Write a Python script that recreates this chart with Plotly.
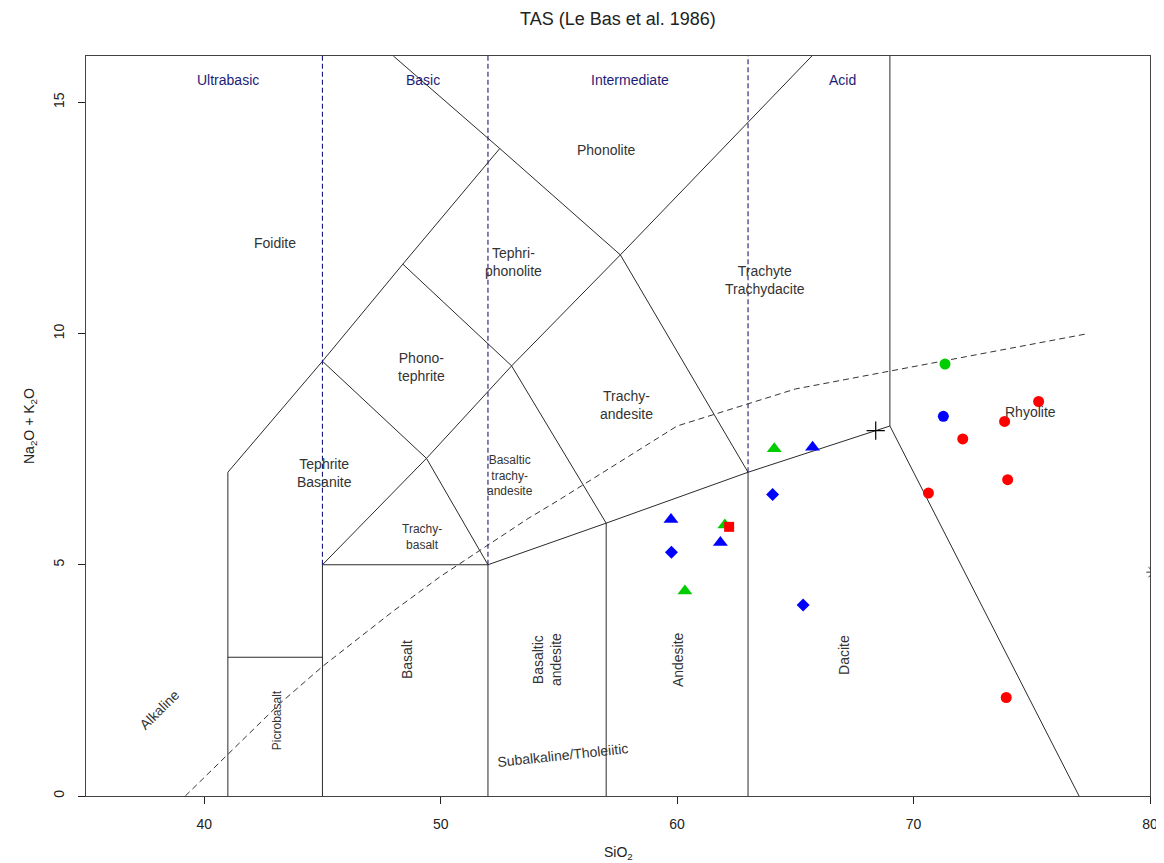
import plotly.graph_objects as go

# ---------------- data ----------------
red_circle_x = [75.29, 73.85, 72.08, 73.98, 70.63, 73.92]
red_circle_y = [8.53, 8.10, 7.72, 6.84, 6.55, 2.13]
blue_circle_x = [71.26]
blue_circle_y = [8.21]
green_circle_x = [71.33]
green_circle_y = [9.34]
blue_tri_x = [65.73, 59.74, 61.83]
blue_tri_y = [7.54, 5.98, 5.48]
green_tri_x = [64.11, 62.02, 60.33]
green_tri_y = [7.51, 5.86, 4.43]
blue_dia_x = [64.04, 59.76, 65.33]
blue_dia_y = [6.52, 5.27, 4.13]
red_sq_x = [62.2]
red_sq_y = [5.82]
plus_x = [68.4]
plus_y = [7.9]
star_x = [80.15]
star_y = [4.84]

# TAS field boundaries (SiO2, Na2O+K2O)
solid_boundaries = [
    [(41, 0), (41, 7)],
    [(41, 3), (45, 3)],
    [(45, 0), (45, 5)],
    [(41, 7), (45, 9.4), (48.4, 11.5), (52.5, 14)],
    [(48, 16), (52.5, 14), (57.6, 11.7), (63, 7)],
    [(45, 5), (49.4, 7.3), (53, 9.3), (57.6, 11.7), (65.7, 16)],
    [(45, 9.4), (49.4, 7.3), (52, 5)],
    [(48.4, 11.5), (53, 9.3), (57, 5.9)],
    [(45, 5), (52, 5), (57, 5.9), (63, 7), (69, 8)],
    [(52, 0), (52, 5)],
    [(57, 0), (57, 5.9)],
    [(63, 0), (63, 7)],
    [(69, 16), (69, 8), (77, 0)],
]
class_dividers = [
    [(45, 5), (45, 16)],
    [(52, 5), (52, 16)],
    [(63, 7), (63, 16)],
]
irvine_x = [39.2, 40, 43.2, 45, 48, 50, 53.7, 55, 60, 65, 77.4]
irvine_y = [0, 0.4, 2, 2.8, 4, 4.75, 6, 6.4, 8, 8.8, 10]

class_labels = ["Ultrabasic", "Basic", "Intermediate", "Acid"]
class_label_x = [41.0, 49.26, 58.0, 67.0]
class_label_y = 15.48

field_labels = ["Foidite", "Phonolite", "Tephri-<br>phonolite", "Trachyte<br>Trachydacite",
                "Phono-<br>tephrite", "Trachy-<br>andesite", "Tephrite<br>Basanite", "Rhyolite"]
field_label_x = [43.0, 57.0, 53.06, 63.72, 49.2, 57.84, 45.1, 74.93]
field_label_y = [11.96, 13.97, 11.55, 11.16, 9.28, 8.45, 6.98, 8.30]

small_labels = ["Basaltic<br>trachy-<br>andesite", "Trachy-<br>basalt"]
small_label_x = [52.94, 49.2]
small_label_y = [6.94, 5.6]

rot_labels = ["Basalt", "Basaltic<br>andesite", "Andesite", "Dacite"]
rot_label_x = [48.58, 54.5, 60.04, 67.06]
rot_label_y = [2.94, 2.94, 2.94, 3.05]

x_ticks = [40, 50, 60, 70, 80]
y_ticks = [0, 5, 10, 15]

FONT = "Liberation Sans, Arial, sans-serif"
NAVY = "#1c1c78"
LINE = "#2a2a2a"

fig = go.Figure()

def seg_trace(pts, color, dash="solid", width=1):
    return go.Scatter(x=[p[0] for p in pts], y=[p[1] for p in pts], mode="lines",
                      line=dict(color=color, width=width, dash=dash),
                      hoverinfo="skip", showlegend=False)

for b in solid_boundaries:
    fig.add_trace(seg_trace(b, LINE))
for b in class_dividers:
    fig.add_trace(seg_trace(b, NAVY, dash="5px,3px", width=1.1))
fig.add_trace(go.Scatter(x=irvine_x, y=irvine_y, mode="lines",
                         line=dict(color="#333333", width=1, dash="6px,4px"),
                         hoverinfo="skip", showlegend=False))

def pts(x, y, symbol, color, size):
    return go.Scatter(x=x, y=y, mode="markers", showlegend=False,
                      marker=dict(symbol=symbol, color=color, size=size, line=dict(width=0)))

GREEN = "#00cd00"
fig.add_trace(pts(red_circle_x, red_circle_y, "circle", "#ff0000", 11))
fig.add_trace(pts(blue_circle_x, blue_circle_y, "circle", "#0000ff", 11))
fig.add_trace(pts(green_circle_x, green_circle_y, "circle", GREEN, 11))
fig.add_trace(pts(blue_tri_x, blue_tri_y, "triangle-up", "#0000ff", 13))
fig.add_trace(pts(green_tri_x, green_tri_y, "triangle-up", GREEN, 13))
fig.add_trace(pts(blue_dia_x, blue_dia_y, "diamond", "#0000ff", 10))
fig.add_trace(pts(red_sq_x, red_sq_y, "square", "#ff0000", 10))
fig.add_trace(go.Scatter(x=plus_x, y=plus_y, mode="markers", showlegend=False,
                         marker=dict(symbol="cross-thin", size=13, line=dict(color="black", width=1.2))))
fig.add_trace(go.Scatter(x=star_x, y=star_y, mode="markers", showlegend=False, cliponaxis=True,
                         marker=dict(symbol="asterisk", size=12, line=dict(color="#333333", width=1))))

ann = []
for t, x in zip(class_labels, class_label_x):
    ann.append(dict(x=x, y=class_label_y, text=t, showarrow=False,
                    font=dict(family=FONT, size=14, color=NAVY)))
for t, x, y in zip(field_labels, field_label_x, field_label_y):
    ann.append(dict(x=x, y=y, text=t, showarrow=False,
                    font=dict(family=FONT, size=14, color="#333333")))
for t, x, y in zip(small_labels, small_label_x, small_label_y):
    ann.append(dict(x=x, y=y, text=t, showarrow=False,
                    font=dict(family=FONT, size=12, color="#333333")))
for t, x, y in zip(rot_labels, rot_label_x, rot_label_y):
    ann.append(dict(x=x, y=y, text=t, showarrow=False, textangle=-90,
                    font=dict(family=FONT, size=14, color="#333333")))
ann.append(dict(x=43.08, y=1.64, text="Picrobasalt", showarrow=False, textangle=-90,
                font=dict(family=FONT, size=12, color="#333333")))
ann.append(dict(x=38.09, y=1.86, text="Alkaline", showarrow=False, textangle=-45,
                font=dict(family=FONT, size=14, color="#333333")))
ann.append(dict(x=55.18, y=0.89, text="Subalkaline/Tholeiitic", showarrow=False, textangle=-6,
                font=dict(family=FONT, size=14, color="#333333")))
# title and axis titles
ann.append(dict(xref="paper", yref="paper", x=0.5, y=1, yshift=37, yanchor="middle",
                text="TAS (Le Bas et al. 1986)", showarrow=False,
                font=dict(family=FONT, size=18, color="#222222")))
ann.append(dict(xref="paper", yref="paper", x=0.5, y=0, yshift=-57, yanchor="middle",
                text="SiO<sub>2</sub>", showarrow=False,
                font=dict(family=FONT, size=14, color="#222222")))
ann.append(dict(xref="paper", yref="paper", x=0, y=0.5, xshift=-56, xanchor="center",
                text="Na<sub>2</sub>O + K<sub>2</sub>O", showarrow=False, textangle=-90,
                font=dict(family=FONT, size=14, color="#222222")))

# the page body has an 8px margin, so margins are chosen to put the
# plot area at the same window pixels as the reference (x 86-1150, y 56-796)
fig.update_layout(
    width=1164, height=863,
    margin=dict(l=78, r=22, t=48, b=75),
    paper_bgcolor="white", plot_bgcolor="white",
    annotations=ann,
    font=dict(family=FONT, size=14, color="#222222"),
    xaxis=dict(range=[35, 80], tickvals=x_ticks, ticks="outside", ticklen=7,
               tickcolor="#222", showgrid=False, zeroline=False, showline=True,
               linecolor="#444", linewidth=1, mirror=True, automargin=False,
               ticklabelstandoff=8, tickfont=dict(family=FONT, size=14, color="#222")),
    yaxis=dict(range=[0, 16], tickvals=y_ticks, ticks="outside", ticklen=7,
               tickcolor="#222", showgrid=False, zeroline=False, showline=True,
               linecolor="#444", linewidth=1, mirror=True, automargin=False,
               tickangle=-90, ticklabelstandoff=8,
               tickfont=dict(family=FONT, size=14, color="#222")),
)

fig.write_html("out.html")
